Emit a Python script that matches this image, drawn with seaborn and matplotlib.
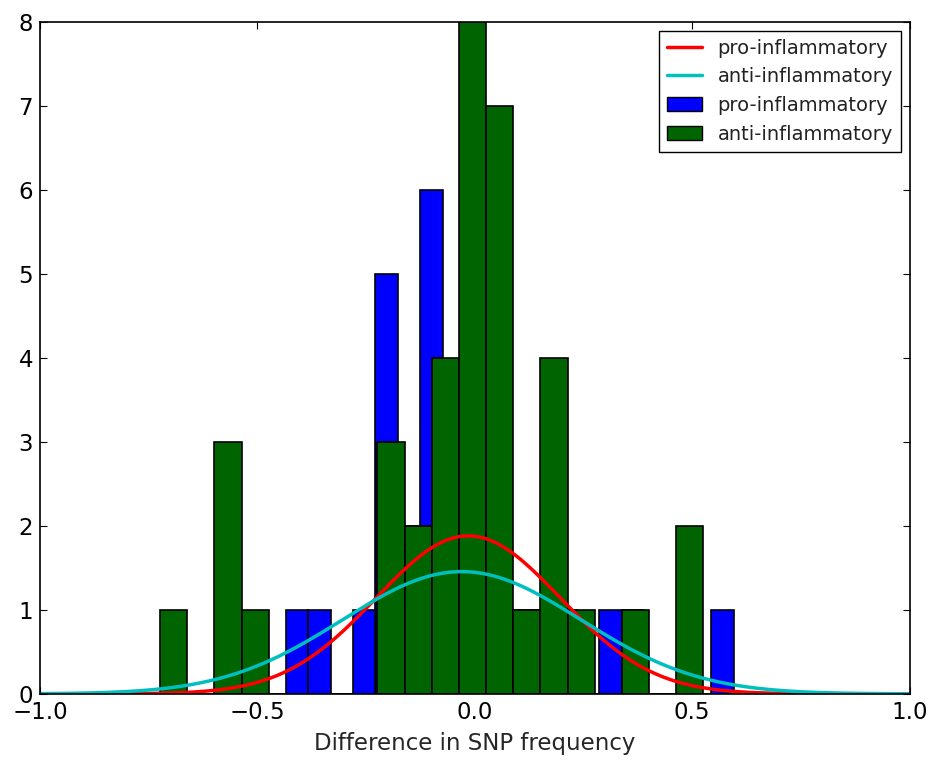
import numpy as np
import pandas as pd
import seaborn as sns
import matplotlib
matplotlib.use("Agg")
import matplotlib.pyplot as plt
from matplotlib.lines import Line2D
from matplotlib.patches import Patch

# ---- data ----
series_names = ["pro-inflammatory", "anti-inflammatory"]

# pro-inflammatory histogram: 20 bins between these limits
pro_range = (-0.4345, 0.5955)
pro_counts = [1, 1, 0, 1, 5, 2, 6, 3, 5, 5, 1, 1, 1, 0, 1, 1, 0, 0, 0, 1]

# anti-inflammatory histogram: 20 bins between these limits
anti_range = (-0.724, 0.526)
anti_counts = [1, 0, 3, 1, 0, 0, 0, 0, 3, 2, 4, 8, 7, 1, 4, 1, 0, 1, 0, 2]

# normal fits (mean, sd)
pro_fit = (-0.015, 0.212)
anti_fit = (-0.030, 0.274)

x_ticks = [-1.0, -0.5, 0.0, 0.5, 1.0]
y_ticks = [0, 1, 2, 3, 4, 5, 6, 7, 8]
x_label = "Difference in SNP frequency"

# ---- styling ----
sns.set_theme(style="white")
plt.rcParams.update({
    "font.family": ["DejaVu Sans"],
    "xtick.direction": "in", "ytick.direction": "in",
    "xtick.top": True, "ytick.right": True,
    "xtick.bottom": True, "ytick.left": True,
    "xtick.major.size": 5, "ytick.major.size": 5,
    "xtick.major.width": 0.8, "ytick.major.width": 0.8,
    "axes.edgecolor": "black", "axes.linewidth": 1.2,
    "xtick.color": "black", "ytick.color": "black",
    "text.color": "#222222",
})

fig = plt.figure(figsize=(9.3, 7.6), dpi=100)
ax = fig.add_axes([0.043, 0.087, 0.935, 0.884])

def hist(rng, counts, color):
    n = len(counts)
    w = (rng[1] - rng[0]) / n
    centers = rng[0] + w * (np.arange(n) + 0.5)
    df = pd.DataFrame({"x": centers, "w": np.asarray(counts, dtype=float)})
    sns.histplot(data=df, x="x", weights="w", bins=n, binrange=rng, ax=ax,
                 color=color, alpha=1.0, edgecolor="black", linewidth=1.2)

pro_color = "#0000ff"
anti_color = "#006400"
hist(pro_range, pro_counts, pro_color)
hist(anti_range, anti_counts, anti_color)

xs = np.linspace(-1, 1, 400)
def pdf(m, s):
    return np.exp(-0.5 * ((xs - m) / s) ** 2) / (s * np.sqrt(2 * np.pi))

sns.lineplot(x=xs, y=pdf(*pro_fit), color="red", linewidth=2.5, ax=ax)
sns.lineplot(x=xs, y=pdf(*anti_fit), color="#00bfbf", linewidth=2.5, ax=ax)

ax.set_xlim(-1, 1)
ax.set_ylim(0, 8)
ax.set_xticks(x_ticks)
ax.set_yticks(y_ticks)
ax.set_xticklabels([f"{v:.1f}".replace("-", "\u2212") for v in x_ticks])
ax.tick_params(labelsize=16.5, pad=5)
ax.set_xlabel(x_label, fontsize=16.5, labelpad=6)
ax.set_ylabel("")
for sp in ax.spines.values():
    sp.set_visible(True)
    sp.set_color("black")

handles = [
    Line2D([], [], color="red", linewidth=2.5),
    Line2D([], [], color="#00bfbf", linewidth=2.5),
    Patch(facecolor=pro_color, edgecolor="black"),
    Patch(facecolor=anti_color, edgecolor="black"),
]
labels = series_names + series_names
leg = ax.legend(handles, labels, loc="upper right", fontsize=14, frameon=True,
                fancybox=False, edgecolor="black", framealpha=1,
                borderaxespad=0.45, handlelength=1.8, labelspacing=0.5)
leg.get_frame().set_linewidth(1.0)

fig.savefig("out.png", dpi=100)
